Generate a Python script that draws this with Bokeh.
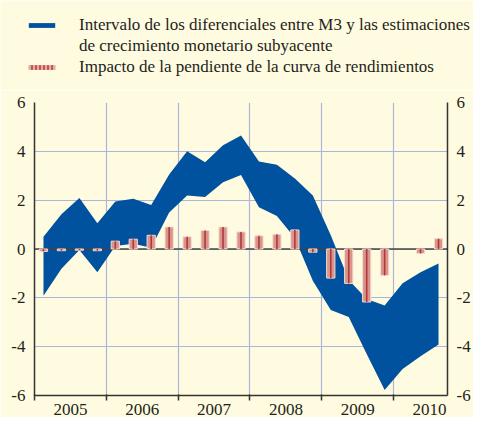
from bokeh.plotting import figure
from bokeh.layouts import column
from bokeh.models import (Range1d, LinearAxis, FixedTicker, Span, Legend, LegendItem,
                          ColumnDataSource)
from bokeh.embed import file_html
from bokeh.resources import INLINE

quarters = ["2005Q1", "2005Q2", "2005Q3", "2005Q4",
            "2006Q1", "2006Q2", "2006Q3", "2006Q4",
            "2007Q1", "2007Q2", "2007Q3", "2007Q4",
            "2008Q1", "2008Q2", "2008Q3", "2008Q4",
            "2009Q1", "2009Q2", "2009Q3", "2009Q4",
            "2010Q1", "2010Q2", "2010Q3"]
upper = [0.5, 1.42, 2.09, 1.05, 1.95, 2.06, 1.8, 3.05, 4.0, 3.55, 4.25, 4.65,
         3.58, 3.45, 2.89, 2.19, 0.56, -1.27, -2.05, -2.31, -1.4, -0.95, -0.59]
lower = [-1.91, -0.81, -0.04, -0.95, 0.12, 0.22, 0.05, 1.5, 2.19, 2.13, 2.73, 3.03,
         1.71, 1.35, 0.45, -1.3, -2.5, -2.79, -4.3, -5.77, -4.91, -4.39, -3.91]
slope = [-0.1, -0.07, -0.05, -0.07, 0.32, 0.4, 0.56, 0.9, 0.5, 0.76, 0.9, 0.7,
         0.54, 0.6, 0.78, -0.13, -1.19, -1.41, -2.17, -1.08, float("nan"), -0.18, 0.42]
years = [2005, 2006, 2007, 2008, 2009, 2010]
year_labels = ["2005", "2006", "2007", "2008", "2009", "2010"]
y_ticks = [-6, -4, -2, 0, 2, 4, 6]
y_tick_labels = ["-6", "-4", "-2", "0", "2", "4", "6"]

legend_labels = ["Intervalo de los diferenciales entre M3 y las estimaciones",
                 "de crecimiento monetario subyacente",
                 "Impacto de la pendiente de la curva de rendimientos"]

x = [int(q[:4]) + (int(q[-1]) - 0.5) / 4 for q in quarters]

BG = "#fffbe0"
BLUE = "#00519e"
GRID = "#aab5dc"
AXIS = "#333333"
PINK = "#d8968b"
DARKRED = "#b5363a"
TEXT = "#231f20"
FONT = "Liberation Serif"

W = 473
TOTAL_H = 417
HEAD_H = 90
MAIN_H = TOTAL_H - HEAD_H
ROW_H = 21
LEG_H = 3 * ROW_H
LEG_TOP = 14

src = ColumnDataSource(dict(x=x, upper=upper, lower=lower, slope=slope))

# ---------------- legend header ----------------
head = figure(width=W, height=HEAD_H, output_backend="svg", toolbar_location=None,
              x_range=Range1d(0, 1), y_range=Range1d(0, 1),
              x_axis_location=None, y_axis_location=None,
              min_border_left=0, min_border_right=0,
              min_border_top=0, min_border_bottom=0)
head.frame_align = False
head.background_fill_color = BG
head.border_fill_color = BG
head.outline_line_color = None
head.xgrid.grid_line_color = None
head.ygrid.grid_line_color = None

# legend carriers (their data lie outside this header's ranges)
d1 = head.varea(x="x", y1="lower", y2="upper", source=src, fill_color=BLUE)
d2 = head.vbar(x="x", top="slope", width=0.1, source=src, fill_alpha=0, line_alpha=0)
d3 = head.vbar(x="x", top="slope", width=0.1, source=src, fill_color="#e3aca2",
               line_color=None, hatch_pattern="vertical_line", hatch_color=DARKRED,
               hatch_scale=4, hatch_weight=1.5)

legend = Legend(items=[LegendItem(label=legend_labels[0], renderers=[d1]),
                       LegendItem(label=legend_labels[1], renderers=[d2]),
                       LegendItem(label=legend_labels[2], renderers=[d3])],
                location=(25, HEAD_H - LEG_TOP - LEG_H))
legend.glyph_width = 33
legend.glyph_height = 6
legend.label_height = ROW_H
legend.spacing = 0
legend.padding = 0
legend.margin = 0
legend.label_standoff = 21
legend.label_text_font = FONT
legend.label_text_font_size = "17px"
legend.label_text_color = TEXT
legend.background_fill_alpha = 0
legend.border_line_color = None
head.add_layout(legend, "center")

# ---------------- main chart ----------------
fig = figure(width=W, height=MAIN_H, output_backend="svg", toolbar_location=None,
             x_range=Range1d(2005, 2010.75), y_range=Range1d(-6, 6),
             min_border_left=34, min_border_right=0, min_border_top=102 - HEAD_H,
             min_border_bottom=22)
fig.frame_align = False
fig.background_fill_color = BG
fig.border_fill_color = BG
fig.outline_line_color = None

fig.yaxis.ticker = FixedTicker(ticks=y_ticks)
yr = LinearAxis(ticker=FixedTicker(ticks=y_ticks))
fig.add_layout(yr, "right")
for ax in [fig.yaxis[0], yr]:
    ax.axis_line_color = AXIS
    ax.axis_line_width = 1.5
    ax.major_tick_line_color = None
    ax.major_tick_out = 0
    ax.major_tick_in = 0
    ax.minor_tick_line_color = None
    ax.minor_tick_out = 0
    ax.axis_label_standoff = 0
    ax.major_label_overrides = {t: s for t, s in zip(y_ticks, y_tick_labels)}
    ax.major_label_text_font = FONT
    ax.major_label_text_font_size = "17px"
    ax.major_label_text_color = TEXT
    ax.major_label_standoff = 9

mids = [y + 0.5 for y in years]
xa = fig.xaxis[0]
xa.ticker = FixedTicker(ticks=mids, minor_ticks=years)
xa.major_label_overrides = {m: lab for m, lab in zip(mids, year_labels)}
xa.axis_line_color = AXIS
xa.axis_line_width = 1.5
xa.axis_label_standoff = 0
xa.major_tick_line_color = None
xa.major_tick_out = 0
xa.major_tick_in = 0
xa.minor_tick_line_color = AXIS
xa.minor_tick_line_width = 1.5
xa.minor_tick_out = 5
xa.minor_tick_in = 1
xa.major_label_text_font = FONT
xa.major_label_text_font_size = "17px"
xa.major_label_text_color = TEXT
xa.major_label_standoff = 3

fig.ygrid.grid_line_color = GRID
fig.ygrid.grid_line_width = 1.2
fig.xgrid.grid_line_color = None
fig.xgrid.minor_grid_line_color = GRID
fig.xgrid.minor_grid_line_width = 1.2

fig.varea(x="x", y1="lower", y2="upper", source=src, fill_color=BLUE)

zero = Span(location=0, dimension="width", line_color="#444444", line_width=1.6)
zero.level = "glyph"
fig.add_layout(zero)

b1 = fig.vbar(x="x", top="slope", bottom=0, width=0.115, source=src,
              fill_color=PINK, line_color="#f6dcd5", line_width=1)
b2 = fig.vbar(x="x", top="slope", bottom=0, width=0.022, source=src,
              fill_color=DARKRED, line_color=None)
b1.level = "overlay"
b2.level = "overlay"

p = column(head, fig, spacing=0)

open("out.html", "w").write(file_html(p, INLINE))
